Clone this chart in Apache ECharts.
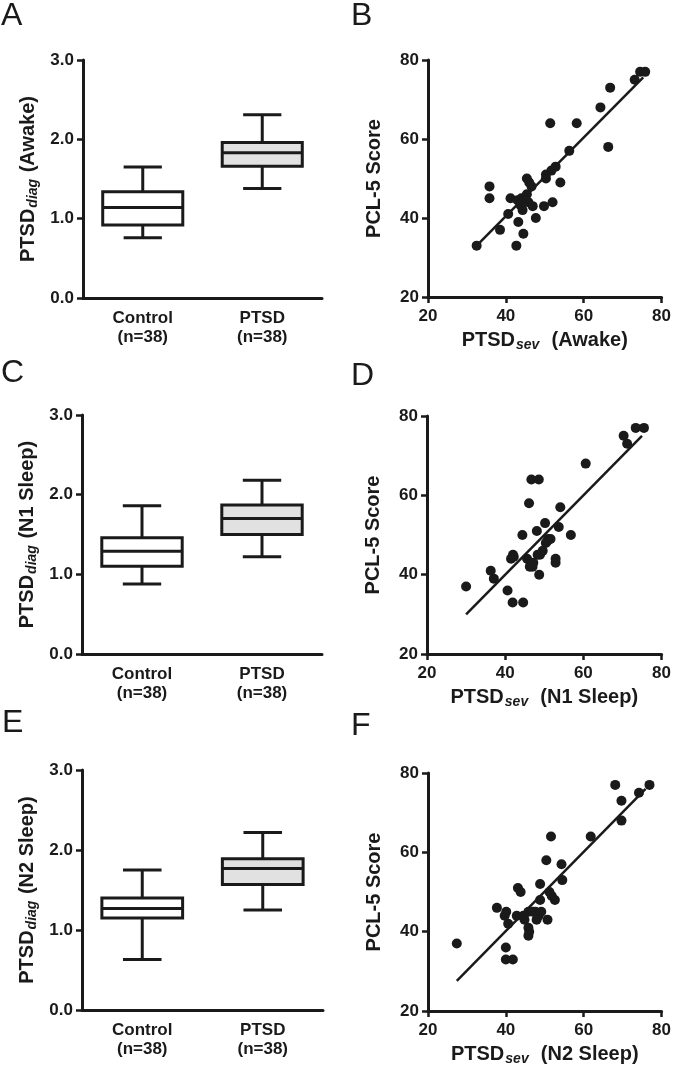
<!DOCTYPE html>
<html>
<head>
<meta charset="utf-8">
<script src="https://cdn.jsdelivr.net/npm/echarts@6/dist/echarts.min.js"></script>
<style>
html,body{margin:0;padding:0;background:#fff;}
#chart{width:674px;height:1067px;}
</style>
</head>
<body>
<div id="chart"></div>
<script>
// ---------- DATA ----------
const groups = ['Control\n(n=38)', 'PTSD\n(n=38)'];
const boxTicks = [0, 1, 2, 3];
const scatterTicks = [20, 40, 60, 80];

// [low whisker, Q1, median, Q3, high whisker]
const boxAwake = [[0.76, 0.92, 1.14, 1.34, 1.65], [1.38, 1.66, 1.83, 1.96, 2.31]];
const boxN1 = [[0.88, 1.10, 1.29, 1.46, 1.86], [1.22, 1.50, 1.70, 1.87, 2.18]];
const boxN2 = [[0.63, 1.15, 1.27, 1.40, 1.75], [1.25, 1.57, 1.77, 1.89, 2.22]];

// [PTSD_sev, PCL-5 score]
const scatterAwake = [
  [32.5,33],[35.8,48],[35.8,45],[38.5,37],[40.6,41],[41.2,45],[42.7,33],[43.2,39],
  [43.0,44.5],[43.7,43.3],[44.0,45],[44.3,42],[44.5,36],[44.5,44],[45.4,46],[45.8,44],
  [45.4,50],[46.0,49],[46.6,48],[46.9,43],[47.7,40],[49.8,43],[50.3,50],[50.3,51],
  [51.4,64],[51.7,52],[52.0,44],[52.8,53],[54.0,49],[56.3,57],[58.2,64],[64.3,68],
  [66.3,58],[66.8,73],[73.1,75],[74.5,77],[75.8,77],[44.0,43.5]
];
const scatterN1 = [
  [30.0,37],[36.3,41],[37.1,39],[40.6,36],[41.9,33],[41.5,44],[42.0,45],[44.4,50],
  [44.6,33],[45.6,44],[46.1,58],[46.7,64],[48.6,64],[46.3,42],[46.5,43],[47.2,43],
  [48.1,51],[48.3,45],[48.7,40],[48.9,45],[49.6,46],[50.2,53],[50.4,48],[51.0,49],
  [51.6,49],[53.7,52],[54.1,57],[52.9,44],[52.9,43],[56.8,50],[60.6,68],[70.3,75],
  [71.2,73],[73.4,77],[75.5,77],[42.2,44.5],[47.0,42],[50.8,48.5]
];
const scatterN2 = [
  [27.4,37],[37.7,46],[39.7,44],[40.1,45],[40.6,42],[40.0,36],[40.0,33],[41.8,33],
  [42.8,44],[43.1,51],[43.8,50],[44.5,44],[44.8,43],[45.8,41],[46.0,40],[45.8,39],
  [45.8,45],[46.9,45],[47.6,45],[47.9,43],[48.4,44],[48.8,52],[48.8,48],[49.1,45],
  [50.4,58],[50.7,43],[51.2,50],[51.6,64],[51.8,49],[52.6,48],[54.3,57],[54.5,53],
  [61.8,64],[68.1,77],[69.7,73],[69.7,68],[74.2,75],[76.9,77]
];

// regression line end points
const fitAwake = [[32.5,33.0],[75.3,75.6]];
const fitN1 = [[30.0,30.0],[75.0,75.0]];
const fitN2 = [[27.4,27.6],[75.9,76.0]];

const panelLetters = ['A','B','C','D','E','F'];
const yBoxNames = ['Awake','N1 Sleep','N2 Sleep'];
const xScatterNames = ['Awake','N1 Sleep','N2 Sleep'];
const yScatterName = 'PCL-5 Score';

// ---------- STYLE ----------
const FONT = '"Liberation Sans", Arial, sans-serif';
const INK = '#1a1a1a';
const boxFills = ['#ffffff', '#e1e1e1'];

const grids = [
  {left:83, top:60, width:239, height:238},
  {left:428, top:60, width:237, height:237},
  {left:82, top:415, width:240, height:239},
  {left:427, top:416, width:238, height:238},
  {left:82, top:770, width:241, height:240},
  {left:428, top:773, width:237, height:238}
];
const letterPos = [[1,0],[351,0],[1,357],[351,360],[2,707],[351,710]];

const axisLineStyle = {lineStyle:{color:INK, width:3}};
const tickStyle = {show:true, length:6, lineStyle:{color:INK, width:2.5}};
const labelStyle = {color:INK, fontFamily:FONT, fontWeight:'bold', fontSize:17};
const richName = {
  b:{fontFamily:FONT, fontWeight:'bold', fontSize:20, color:INK, lineHeight:24},
  s:{fontFamily:FONT, fontWeight:'bold', fontStyle:'italic', fontSize:14, color:INK, lineHeight:14, verticalAlign:'bottom', padding:[0,1,0,1]}
};

const xAxes = [], yAxes = [], series = [];
const boxSets = [boxAwake, boxN1, boxN2];
const scatterSets = [scatterAwake, scatterN1, scatterN2];
const fitSets = [fitAwake, fitN1, fitN2];

function boxRender(params, api) {
  const c = api.value(0);
  const lo = api.coord([c, api.value(1)]);
  const q1 = api.coord([c, api.value(2)]);
  const md = api.coord([c, api.value(3)]);
  const q3 = api.coord([c, api.value(4)]);
  const hi = api.coord([c, api.value(5)]);
  const band = api.size([1, 0])[0];
  const hw = band * 0.335, cw = band * 0.16;
  const x = lo[0];
  const ls = {stroke: INK, lineWidth: 3, fill: null};
  return {
    type: 'group',
    children: [
      {type:'line', shape:{x1:x, y1:hi[1], x2:x, y2:q3[1]}, style:ls},
      {type:'line', shape:{x1:x, y1:lo[1], x2:x, y2:q1[1]}, style:ls},
      {type:'line', shape:{x1:x-cw, y1:hi[1], x2:x+cw, y2:hi[1]}, style:ls},
      {type:'line', shape:{x1:x-cw, y1:lo[1], x2:x+cw, y2:lo[1]}, style:ls},
      {type:'rect', shape:{x:x-hw, y:q3[1], width:hw*2, height:q1[1]-q3[1]},
        style:{fill: boxFills[params.dataIndex], stroke: INK, lineWidth: 3}},
      {type:'line', shape:{x1:x-hw, y1:md[1], x2:x+hw, y2:md[1]}, style:ls}
    ]
  };
}

for (let r = 0; r < 3; r++) {
  const gb = r * 2, gs = r * 2 + 1;
  // box plot axes
  xAxes.push({
    type:'category', gridIndex:gb, data:groups,
    axisLine:axisLineStyle, axisTick:{show:false},
    axisLabel:Object.assign({margin:11, lineHeight:19}, labelStyle)
  });
  yAxes.push({
    type:'value', gridIndex:gb, min:boxTicks[0], max:boxTicks[boxTicks.length-1], interval:1,
    axisLine:Object.assign({show:true}, axisLineStyle), axisTick:tickStyle, splitLine:{show:false},
    axisLabel:Object.assign({margin:9, formatter:v=>v.toFixed(1)}, labelStyle),
    name:'{b|PTSD}{s|diag}{b| (' + yBoxNames[r] + ')}',
    nameLocation:'middle', nameGap:43,
    nameTextStyle:{rich:richName}
  });
  series.push({
    type:'custom', xAxisIndex:xAxes.length-1, yAxisIndex:yAxes.length-1,
    renderItem:boxRender,
    data:boxSets[r].map((b,i)=>[i].concat(b)),
    encode:{x:0, y:[1,2,3,4,5]}, z:5
  });
  // scatter axes
  xAxes.push({
    type:'value', gridIndex:gs, min:20, max:80, interval:20,
    axisLine:Object.assign({show:true}, axisLineStyle), axisTick:tickStyle, splitLine:{show:false},
    axisLabel:Object.assign({margin:11}, labelStyle),
    name:'{b|PTSD}{s|sev}{b|  (' + xScatterNames[r] + ')}',
    nameLocation:'middle', nameGap:31,
    nameTextStyle:{rich:richName}
  });
  yAxes.push({
    type:'value', gridIndex:gs, min:20, max:80, interval:20,
    axisLine:Object.assign({show:true}, axisLineStyle), axisTick:tickStyle, splitLine:{show:false},
    axisLabel:Object.assign({margin:9}, labelStyle),
    name:yScatterName, nameLocation:'middle', nameGap:44,
    nameTextStyle:{fontFamily:FONT, fontWeight:'bold', fontSize:20, color:INK}
  });
  series.push({
    type:'scatter', xAxisIndex:xAxes.length-1, yAxisIndex:yAxes.length-1,
    data:scatterSets[r], symbol:'circle', symbolSize:10,
    itemStyle:{color:INK, opacity:1}, z:3
  });
  series.push({
    type:'line', xAxisIndex:xAxes.length-1, yAxisIndex:yAxes.length-1,
    data:fitSets[r], showSymbol:false, symbol:'none',
    lineStyle:{color:INK, width:2.5}, z:4
  });
}

const chart = echarts.init(document.getElementById('chart'), null, {renderer:'canvas'});
chart.setOption({
  animation:false,
  backgroundColor:'#ffffff',
  grid:grids,
  xAxis:xAxes,
  yAxis:yAxes,
  series:series,
  graphic:panelLetters.map((t,i)=>({
    type:'text', left:letterPos[i][0], top:letterPos[i][1],
    style:{text:t, fontFamily:FONT, fontSize:32, fill:INK}
  }))
});
</script>
</body>
</html>
